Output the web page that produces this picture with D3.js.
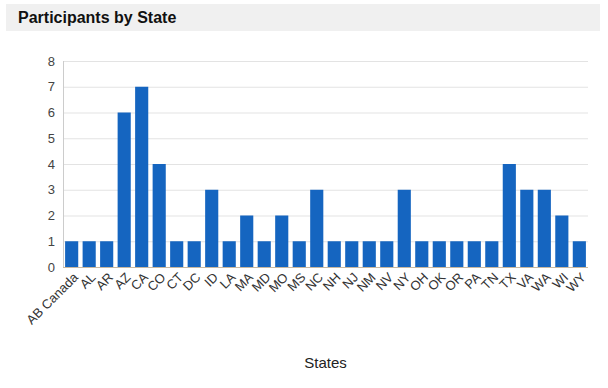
<!DOCTYPE html>
<html>
<head>
<meta charset="utf-8">
<script src="https://cdn.jsdelivr.net/npm/d3@7"></script>
<style>
  body { margin: 0; background: #fff; font-family: Arial, "Liberation Sans", sans-serif; }
</style>
</head>
<body>
<div id="chart"></div>
<script>
const states = ['AB Canada', 'AL', 'AR', 'AZ', 'CA', 'CO', 'CT', 'DC', 'ID', 'LA',
    'MA', 'MD', 'MO', 'MS', 'NC', 'NH', 'NJ', 'NM', 'NV', 'NY',
    'OH', 'OK', 'OR', 'PA', 'TN', 'TX', 'VA', 'WA', 'WI', 'WY'];
const participants = [1, 1, 1, 6, 7, 4, 1, 1, 3, 1,
    2, 1, 2, 1, 3, 1, 1, 1, 1, 3,
    1, 1, 1, 1, 1, 4, 3, 3, 2, 1];
const yTicks = [0, 1, 2, 3, 4, 5, 6, 7, 8];

const width = 608, height = 388;
const plotLeft = 63, plotRight = 588, plotTop = 61, plotBottom = 267;

const svg = d3.select('#chart').append('svg')
    .attr('width', width)
    .attr('height', height);

// title bar
svg.append('rect')
    .attr('x', 6).attr('y', 4)
    .attr('width', 594).attr('height', 27)
    .attr('fill', '#f0f0f0');
svg.append('text')
    .attr('x', 18).attr('y', 23)
    .style('font', 'bold 16px Arial, "Liberation Sans", sans-serif')
    .attr('fill', '#111')
    .text('Participants by State');

const x = d3.scaleBand()
    .domain(states)
    .range([plotLeft, plotRight])
    .paddingInner(0.25)
    .paddingOuter(0.12);

const y = d3.scaleLinear()
    .domain([0, 8])
    .range([plotBottom, plotTop]);

// gridlines
svg.append('g')
    .selectAll('line')
    .data(yTicks)
    .enter()
    .append('line')
    .attr('x1', plotLeft).attr('x2', plotRight)
    .attr('y1', d => y(d) + 0.5).attr('y2', d => y(d) + 0.5)
    .attr('stroke', '#e3e3e3');

// y labels
svg.append('g')
    .style('font', '13px Arial, "Liberation Sans", sans-serif')
    .selectAll('text')
    .data(yTicks)
    .enter()
    .append('text')
    .attr('x', plotLeft - 8)
    .attr('y', d => y(d))
    .attr('dy', '0.35em')
    .attr('text-anchor', 'end')
    .attr('fill', '#444')
    .text(d => d);

// left axis line
svg.append('line')
    .attr('x1', plotLeft + 0.5).attr('x2', plotLeft + 0.5)
    .attr('y1', plotTop).attr('y2', plotBottom)
    .attr('stroke', '#ccc');

// bars
svg.append('g')
    .selectAll('rect')
    .data(states)
    .enter()
    .append('rect')
    .attr('x', d => x(d))
    .attr('y', (d, i) => y(participants[i]))
    .attr('width', x.bandwidth())
    .attr('height', (d, i) => plotBottom - y(participants[i]))
    .attr('fill', '#1565c0');

// baseline
svg.append('line')
    .attr('x1', plotLeft).attr('x2', plotRight)
    .attr('y1', plotBottom + 0.5).attr('y2', plotBottom + 0.5)
    .attr('stroke', '#c8b8a0');

// x labels
svg.append('g')
    .style('font', '13px Arial, "Liberation Sans", sans-serif')
    .selectAll('text')
    .data(states)
    .enter()
    .append('text')
    .attr('transform', d => `translate(${x(d) + x.bandwidth() / 2 + 4},${plotBottom + 8}) rotate(-45)`)
    .attr('text-anchor', 'end')
    .attr('dy', '0.35em')
    .attr('fill', '#333')
    .text(d => d);

// axis title
svg.append('text')
    .attr('x', (plotLeft + plotRight) / 2)
    .attr('y', 368)
    .attr('text-anchor', 'middle')
    .style('font', '15px Arial, "Liberation Sans", sans-serif')
    .attr('fill', '#222')
    .text('States');
</script>
</body>
</html>
